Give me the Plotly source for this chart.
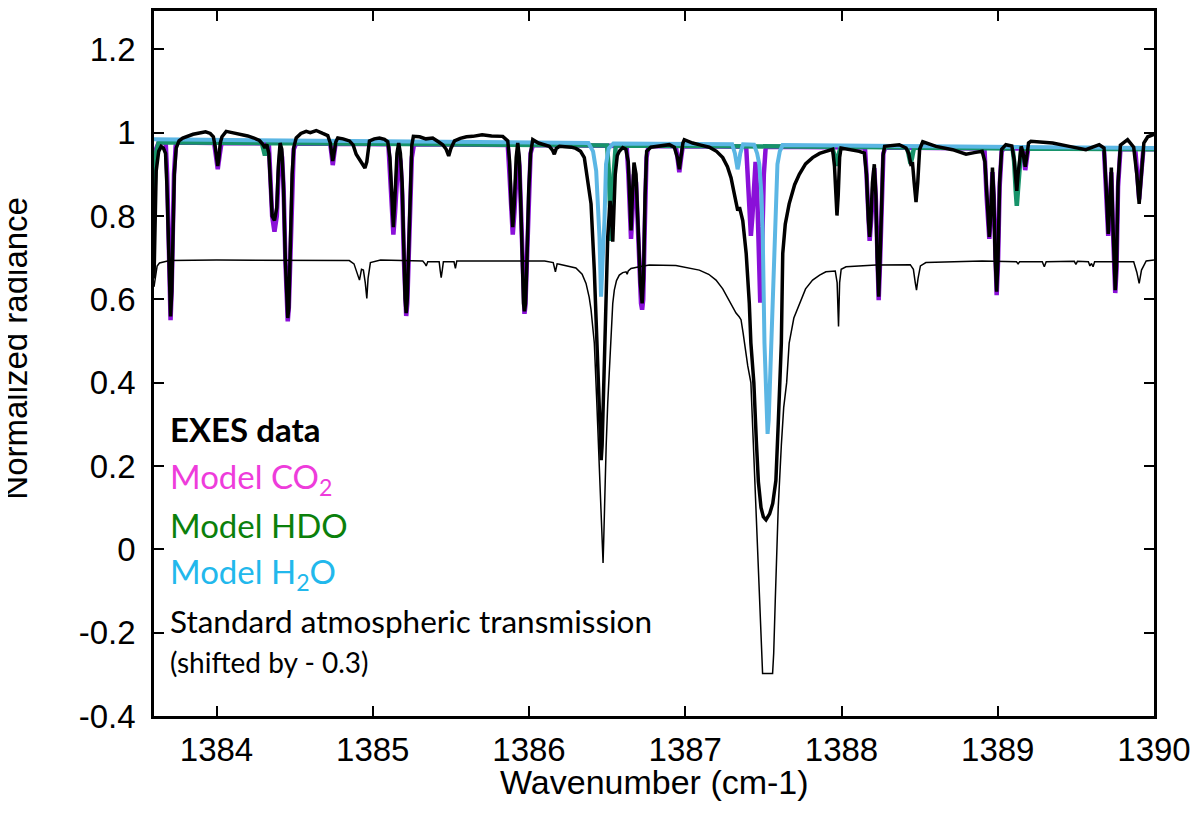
import plotly.graph_objects as go

# wavenumber (cm-1), normalized radiance
exes_points = [
    (1383.600, 0.650), (1383.614, 0.908), (1383.630, 0.955), (1383.646, 0.967),
    (1383.660, 0.963), (1383.674, 0.950), (1383.683, 0.870), (1383.690, 0.760),
    (1383.698, 0.620), (1383.706, 0.559), (1383.714, 0.620), (1383.722, 0.760),
    (1383.730, 0.900), (1383.742, 0.963), (1383.760, 0.980), (1383.784, 0.987),
    (1383.820, 0.992), (1383.850, 0.996), (1383.891, 0.999), (1383.930, 1.002),
    (1383.960, 0.998), (1383.980, 0.990), (1383.992, 0.965), (1384.000, 0.935),
    (1384.008, 0.920), (1384.016, 0.940), (1384.024, 0.975), (1384.035, 0.990),
    (1384.062, 1.003), (1384.100, 1.000), (1384.130, 0.998), (1384.168, 0.995),
    (1384.200, 0.992), (1384.240, 0.987), (1384.275, 0.981), (1384.300, 0.970),
    (1384.310, 0.963), (1384.322, 0.972), (1384.335, 0.950), (1384.345, 0.880),
    (1384.356, 0.800), (1384.371, 0.789), (1384.386, 0.820), (1384.396, 0.920),
    (1384.407, 0.975), (1384.418, 0.960), (1384.428, 0.880), (1384.440, 0.700),
    (1384.449, 0.580), (1384.456, 0.555), (1384.463, 0.580), (1384.472, 0.700),
    (1384.484, 0.900), (1384.495, 0.965), (1384.510, 0.987), (1384.540, 0.998),
    (1384.574, 1.003), (1384.600, 1.000), (1384.638, 1.005), (1384.680, 0.998),
    (1384.712, 0.993), (1384.728, 0.975), (1384.738, 0.945), (1384.744, 0.932),
    (1384.752, 0.950), (1384.764, 0.978), (1384.776, 0.987), (1384.810, 0.985),
    (1384.851, 0.980), (1384.875, 0.970), (1384.894, 0.948), (1384.915, 0.935),
    (1384.936, 0.924), (1384.950, 0.915), (1384.962, 0.930), (1384.979, 0.980),
    (1385.010, 0.985), (1385.043, 0.987), (1385.075, 0.984), (1385.096, 0.978),
    (1385.110, 0.940), (1385.120, 0.860), (1385.132, 0.773), (1385.144, 0.860),
    (1385.155, 0.950), (1385.166, 0.975), (1385.177, 0.950), (1385.188, 0.880),
    (1385.198, 0.720), (1385.207, 0.600), (1385.214, 0.567), (1385.221, 0.600),
    (1385.230, 0.720), (1385.240, 0.890), (1385.250, 0.970), (1385.260, 0.991),
    (1385.300, 0.990), (1385.340, 0.985), (1385.384, 0.987), (1385.420, 0.978),
    (1385.448, 0.971), (1385.470, 0.960), (1385.486, 0.944), (1385.500, 0.962),
    (1385.523, 0.980), (1385.560, 0.986), (1385.600, 0.990), (1385.640, 0.991),
    (1385.700, 0.995), (1385.760, 0.992), (1385.832, 0.991), (1385.864, 0.980),
    (1385.876, 0.930), (1385.886, 0.830), (1385.896, 0.773), (1385.906, 0.830),
    (1385.918, 0.940), (1385.928, 0.975), (1385.938, 0.940), (1385.948, 0.820),
    (1385.958, 0.660), (1385.965, 0.590), (1385.971, 0.571), (1385.978, 0.590),
    (1385.986, 0.680), (1385.998, 0.860), (1386.010, 0.950), (1386.024, 0.983),
    (1386.060, 0.975), (1386.100, 0.970), (1386.130, 0.967), (1386.150, 0.958),
    (1386.162, 0.948), (1386.175, 0.962), (1386.195, 0.967), (1386.230, 0.966),
    (1386.270, 0.965), (1386.300, 0.962), (1386.330, 0.955), (1386.354, 0.940),
    (1386.380, 0.880), (1386.397, 0.829), (1386.418, 0.670), (1386.433, 0.495),
    (1386.448, 0.330), (1386.456, 0.250), (1386.462, 0.214), (1386.468, 0.250),
    (1386.476, 0.350), (1386.483, 0.495), (1386.495, 0.650), (1386.504, 0.750),
    (1386.519, 0.836), (1386.528, 0.800), (1386.536, 0.738), (1386.544, 0.800),
    (1386.552, 0.900), (1386.565, 0.945), (1386.578, 0.955), (1386.600, 0.964),
    (1386.620, 0.960), (1386.635, 0.930), (1386.645, 0.840), (1386.653, 0.765),
    (1386.661, 0.840), (1386.672, 0.928), (1386.685, 0.900), (1386.700, 0.780),
    (1386.712, 0.640), (1386.724, 0.590), (1386.733, 0.650), (1386.743, 0.850),
    (1386.753, 0.955), (1386.780, 0.965), (1386.830, 0.968), (1386.898, 0.971),
    (1386.930, 0.965), (1386.950, 0.940), (1386.962, 0.912), (1386.972, 0.940),
    (1386.985, 0.975), (1386.994, 0.983), (1387.047, 0.975), (1387.100, 0.970),
    (1387.154, 0.965), (1387.200, 0.955), (1387.240, 0.940), (1387.270, 0.918),
    (1387.293, 0.892), (1387.310, 0.860), (1387.325, 0.829), (1387.336, 0.813),
    (1387.347, 0.821), (1387.368, 0.789), (1387.390, 0.710), (1387.410, 0.590),
    (1387.420, 0.495), (1387.439, 0.400), (1387.455, 0.260), (1387.468, 0.162),
    (1387.485, 0.100), (1387.500, 0.078), (1387.517, 0.071), (1387.540, 0.085),
    (1387.560, 0.110), (1387.580, 0.165), (1387.595, 0.300), (1387.608, 0.400),
    (1387.615, 0.495), (1387.624, 0.710), (1387.640, 0.780), (1387.665, 0.829),
    (1387.700, 0.875), (1387.730, 0.900), (1387.770, 0.925), (1387.815, 0.940),
    (1387.860, 0.950), (1387.900, 0.955), (1387.943, 0.960), (1387.955, 0.920),
    (1387.964, 0.840), (1387.971, 0.801), (1387.979, 0.850), (1387.988, 0.940),
    (1387.997, 0.963), (1388.050, 0.960), (1388.114, 0.955), (1388.146, 0.951),
    (1388.160, 0.900), (1388.172, 0.790), (1388.180, 0.750), (1388.188, 0.790),
    (1388.198, 0.880), (1388.210, 0.924), (1388.220, 0.850), (1388.228, 0.700),
    (1388.238, 0.606), (1388.247, 0.700), (1388.256, 0.860), (1388.266, 0.945),
    (1388.276, 0.967), (1388.370, 0.971), (1388.413, 0.963), (1388.430, 0.950),
    (1388.444, 0.924), (1388.455, 0.925), (1388.465, 0.880), (1388.477, 0.833),
    (1388.488, 0.880), (1388.500, 0.960), (1388.520, 0.978), (1388.605, 0.967),
    (1388.711, 0.959), (1388.797, 0.948), (1388.850, 0.952), (1388.900, 0.955),
    (1388.918, 0.930), (1388.930, 0.840), (1388.940, 0.760), (1388.946, 0.750),
    (1388.955, 0.800), (1388.966, 0.916), (1388.975, 0.850), (1388.983, 0.700),
    (1388.993, 0.618), (1389.002, 0.700), (1389.012, 0.880), (1389.025, 0.960),
    (1389.052, 0.971), (1389.090, 0.968), (1389.105, 0.935), (1389.115, 0.880),
    (1389.122, 0.860), (1389.130, 0.900), (1389.150, 0.967), (1389.160, 0.955),
    (1389.170, 0.925), (1389.176, 0.918), (1389.185, 0.940), (1389.197, 0.975),
    (1389.212, 0.979), (1389.351, 0.975), (1389.458, 0.967), (1389.564, 0.959),
    (1389.649, 0.971), (1389.680, 0.963), (1389.695, 0.860), (1389.707, 0.757),
    (1389.718, 0.840), (1389.727, 0.916), (1389.737, 0.780), (1389.745, 0.660),
    (1389.752, 0.622), (1389.760, 0.680), (1389.770, 0.880), (1389.785, 0.970),
    (1389.831, 0.983), (1389.870, 0.965), (1389.890, 0.900), (1389.905, 0.829),
    (1389.918, 0.900), (1389.935, 0.975), (1389.960, 0.990), (1389.985, 0.995),
    (1390.000, 0.996),
]

co2_points = [
    (1383.600, 0.900), (1383.610, 0.958), (1383.630, 0.976), (1383.675, 0.976),
    (1383.684, 0.900), (1383.692, 0.760), (1383.699, 0.620), (1383.706, 0.550),
    (1383.713, 0.620), (1383.720, 0.760), (1383.728, 0.900), (1383.740, 0.976),
    (1383.985, 0.975), (1383.996, 0.945), (1384.008, 0.912), (1384.020, 0.945),
    (1384.032, 0.975), (1384.335, 0.974), (1384.345, 0.900), (1384.356, 0.800),
    (1384.371, 0.762), (1384.386, 0.800), (1384.397, 0.900), (1384.410, 0.960),
    (1384.420, 0.940), (1384.430, 0.860), (1384.441, 0.690), (1384.449, 0.580),
    (1384.456, 0.547), (1384.463, 0.580), (1384.471, 0.690), (1384.482, 0.860),
    (1384.494, 0.960), (1384.510, 0.974), (1384.728, 0.973), (1384.737, 0.945),
    (1384.744, 0.922), (1384.752, 0.945), (1384.762, 0.973), (1385.100, 0.972),
    (1385.111, 0.900), (1385.121, 0.810), (1385.132, 0.755), (1385.143, 0.810),
    (1385.153, 0.900), (1385.166, 0.955), (1385.178, 0.930), (1385.189, 0.850),
    (1385.199, 0.700), (1385.207, 0.590), (1385.214, 0.560), (1385.221, 0.590),
    (1385.229, 0.700), (1385.239, 0.850), (1385.250, 0.940), (1385.264, 0.972),
    (1385.864, 0.970), (1385.875, 0.900), (1385.885, 0.810), (1385.896, 0.755),
    (1385.907, 0.810), (1385.917, 0.900), (1385.928, 0.955), (1385.939, 0.920),
    (1385.950, 0.800), (1385.959, 0.650), (1385.965, 0.585), (1385.971, 0.565),
    (1385.977, 0.585), (1385.985, 0.680), (1385.996, 0.850), (1386.010, 0.950),
    (1386.025, 0.970), (1386.625, 0.968), (1386.636, 0.900), (1386.645, 0.800),
    (1386.653, 0.745), (1386.661, 0.800), (1386.671, 0.900), (1386.685, 0.880),
    (1386.698, 0.760), (1386.710, 0.630), (1386.717, 0.590), (1386.724, 0.575),
    (1386.731, 0.600), (1386.740, 0.760), (1386.752, 0.940), (1386.765, 0.968),
    (1386.940, 0.967), (1386.952, 0.935), (1386.962, 0.905), (1386.972, 0.935),
    (1386.984, 0.967), (1387.390, 0.966), (1387.400, 0.900), (1387.410, 0.800),
    (1387.420, 0.752), (1387.430, 0.800), (1387.440, 0.870), (1387.450, 0.930),
    (1387.460, 0.860), (1387.468, 0.720), (1387.474, 0.630), (1387.480, 0.592),
    (1387.486, 0.630), (1387.493, 0.740), (1387.503, 0.900), (1387.515, 0.966),
    (1388.150, 0.964), (1388.160, 0.900), (1388.170, 0.790), (1388.180, 0.740),
    (1388.190, 0.790), (1388.200, 0.880), (1388.210, 0.915), (1388.220, 0.840),
    (1388.228, 0.690), (1388.238, 0.598), (1388.247, 0.690), (1388.256, 0.850),
    (1388.268, 0.950), (1388.280, 0.964), (1388.915, 0.962), (1388.928, 0.850),
    (1388.938, 0.770), (1388.946, 0.745), (1388.955, 0.800), (1388.966, 0.905),
    (1388.975, 0.840), (1388.983, 0.690), (1388.993, 0.610), (1389.002, 0.690),
    (1389.012, 0.870), (1389.025, 0.955), (1389.040, 0.962), (1389.160, 0.962),
    (1389.168, 0.935), (1389.176, 0.910), (1389.185, 0.935), (1389.195, 0.962),
    (1389.680, 0.961), (1389.692, 0.860), (1389.700, 0.780), (1389.707, 0.752),
    (1389.716, 0.820), (1389.727, 0.905), (1389.737, 0.770), (1389.745, 0.650),
    (1389.752, 0.615), (1389.760, 0.670), (1389.770, 0.870), (1389.785, 0.960),
    (1389.880, 0.960), (1389.893, 0.900), (1389.905, 0.840), (1389.918, 0.900),
    (1389.932, 0.960), (1390.000, 0.960),
]

hdo_points = [
    (1383.600, 0.820), (1383.612, 0.950), (1383.630, 0.977), (1384.290, 0.975),
    (1384.300, 0.960), (1384.310, 0.945), (1384.320, 0.960), (1384.330, 0.975),
    (1386.500, 0.969), (1386.512, 0.900), (1386.520, 0.800), (1386.527, 0.740),
    (1386.534, 0.800), (1386.542, 0.900), (1386.555, 0.969), (1387.940, 0.966),
    (1387.955, 0.945), (1387.968, 0.920), (1387.980, 0.945), (1387.995, 0.966),
    (1388.420, 0.964), (1388.432, 0.940), (1388.442, 0.925), (1388.452, 0.940),
    (1388.464, 0.964), (1389.095, 0.962), (1389.105, 0.930), (1389.115, 0.860),
    (1389.122, 0.824), (1389.129, 0.860), (1389.139, 0.930), (1389.150, 0.962),
    (1390.000, 0.960),
]

h2o_points = [
    (1383.600, 0.984), (1386.380, 0.975), (1386.410, 0.955), (1386.430, 0.908),
    (1386.451, 0.750), (1386.461, 0.606), (1386.472, 0.700), (1386.483, 0.789),
    (1386.493, 0.924), (1386.510, 0.962), (1386.540, 0.974), (1387.300, 0.972),
    (1387.318, 0.950), (1387.328, 0.925), (1387.335, 0.912), (1387.342, 0.925),
    (1387.352, 0.950), (1387.370, 0.972), (1387.440, 0.971), (1387.460, 0.950),
    (1387.474, 0.924), (1387.488, 0.850), (1387.496, 0.750), (1387.507, 0.495),
    (1387.513, 0.400), (1387.520, 0.310), (1387.527, 0.277), (1387.534, 0.310),
    (1387.542, 0.400), (1387.552, 0.495), (1387.564, 0.700), (1387.572, 0.750),
    (1387.581, 0.870), (1387.590, 0.924), (1387.605, 0.955), (1387.623, 0.970),
    (1390.000, 0.963),
]

# standard atmospheric transmission, already shifted by -0.3
atm_points = [
    (1383.600, 0.630), (1383.610, 0.660), (1383.620, 0.680), (1383.635, 0.687),
    (1383.700, 0.693), (1384.000, 0.694), (1384.300, 0.694), (1384.850, 0.693),
    (1384.880, 0.685), (1384.900, 0.665), (1384.915, 0.646), (1384.928, 0.672),
    (1384.940, 0.670), (1384.952, 0.640), (1384.962, 0.602), (1384.970, 0.650),
    (1384.985, 0.688), (1385.050, 0.694), (1385.320, 0.692), (1385.335, 0.685),
    (1385.342, 0.680), (1385.352, 0.690), (1385.425, 0.690), (1385.432, 0.668),
    (1385.438, 0.652), (1385.445, 0.670), (1385.452, 0.690), (1385.520, 0.690),
    (1385.529, 0.674), (1385.538, 0.692), (1386.100, 0.692), (1386.155, 0.688),
    (1386.169, 0.666), (1386.180, 0.685), (1386.195, 0.684), (1386.300, 0.675),
    (1386.340, 0.660), (1386.365, 0.638), (1386.385, 0.605), (1386.397, 0.575),
    (1386.408, 0.540), (1386.418, 0.495), (1386.434, 0.352), (1386.450, 0.200),
    (1386.461, 0.114), (1386.469, 0.020), (1386.474, -0.033), (1386.478, 0.020),
    (1386.483, 0.114), (1386.494, 0.250), (1386.504, 0.352), (1386.520, 0.480),
    (1386.536, 0.590), (1386.546, 0.622), (1386.560, 0.645), (1386.578, 0.658),
    (1386.600, 0.664), (1386.621, 0.666), (1386.628, 0.660), (1386.635, 0.668),
    (1386.653, 0.674), (1386.706, 0.678), (1386.770, 0.682), (1386.940, 0.681),
    (1387.000, 0.677), (1387.090, 0.670), (1387.150, 0.660), (1387.197, 0.646),
    (1387.240, 0.625), (1387.282, 0.598), (1387.310, 0.578), (1387.325, 0.567),
    (1387.345, 0.558), (1387.357, 0.551), (1387.370, 0.520), (1387.378, 0.495),
    (1387.400, 0.440), (1387.420, 0.400), (1387.440, 0.216), (1387.460, 0.032),
    (1387.477, -0.124), (1387.488, -0.250), (1387.495, -0.298), (1387.559, -0.298),
    (1387.566, -0.250), (1387.576, -0.124), (1387.595, 0.100), (1387.615, 0.250),
    (1387.630, 0.340), (1387.649, 0.400), (1387.665, 0.495), (1387.695, 0.555),
    (1387.730, 0.590), (1387.770, 0.625), (1387.815, 0.646), (1387.860, 0.658),
    (1387.900, 0.666), (1387.960, 0.668), (1387.972, 0.640), (1387.981, 0.535),
    (1387.988, 0.640), (1387.998, 0.672), (1388.029, 0.678), (1388.220, 0.682),
    (1388.440, 0.683), (1388.460, 0.672), (1388.472, 0.640), (1388.480, 0.622),
    (1388.490, 0.650), (1388.505, 0.680), (1388.540, 0.688), (1388.900, 0.692),
    (1389.120, 0.690), (1389.130, 0.685), (1389.140, 0.690), (1389.285, 0.690),
    (1389.298, 0.678), (1389.310, 0.690), (1389.490, 0.691), (1389.500, 0.684),
    (1389.510, 0.691), (1389.580, 0.690), (1389.590, 0.680), (1389.600, 0.686),
    (1389.610, 0.678), (1389.620, 0.690), (1389.870, 0.690), (1389.890, 0.665),
    (1389.905, 0.638), (1389.920, 0.670), (1389.950, 0.692), (1390.000, 0.694),
]

x_ticks = [1384, 1385, 1386, 1387, 1388, 1389, 1390]
y_ticks = [-0.4, -0.2, 0, 0.2, 0.4, 0.6, 0.8, 1, 1.2]
y_tick_labels = ['-0.4', '-0.2', '0', '0.2', '0.4', '0.6', '0.8', '1', '1.2']

# text, colour, font size, y position (data units)
legend_lines = [
    ('<b>EXES data</b>', '#000000', 33, 0.288),
    ('Model CO<sub>2</sub>', '#EE3CDB', 33, 0.171),
    ('Model HDO', '#0B800B', 33, 0.058),
    ('Model H<sub>2</sub>O', '#22B8EC', 33, -0.058),
    ('Standard atmospheric transmission', '#000000', 31.5, -0.172),
    ('(shifted by - 0.3)', '#000000', 28, -0.271),
]


def unzip(points):
    return [p[0] for p in points], [p[1] for p in points]


fig = go.Figure()

# model curves first, data on top
series = [
    (co2_points, '#8A10D8', 4.5),
    (hdo_points, '#17936A', 4.5),
    (h2o_points, '#5BB6E4', 4),
    (atm_points, '#000000', 1.5),
    (exes_points, '#000000', 3.5),
]
for pts, color, width in series:
    xs, ys = unzip(pts)
    fig.add_trace(go.Scatter(
        x=xs, y=ys, mode='lines',
        line=dict(color=color, width=width),
        showlegend=False, hoverinfo='skip'
    ))

for text, color, size, ypos in legend_lines:
    fig.add_annotation(
        x=1383.69, y=ypos, xref='x', yref='y',
        text=text, showarrow=False,
        xanchor='left', yanchor='middle',
        font=dict(family='Lato', size=size, color=color)
    )

# axis titles
fig.add_annotation(
    x=0.5, y=-0.093, xref='paper', yref='paper',
    text='Wavenumber (cm-1)', showarrow=False,
    xanchor='center', yanchor='middle',
    font=dict(family='Liberation Sans', size=34, color='black')
)
fig.add_annotation(
    x=-0.138, y=0.521, xref='paper', yref='paper',
    text='Normalized radiance', showarrow=False, textangle=-90,
    xanchor='center', yanchor='middle',
    font=dict(family='Liberation Sans', size=33, color='black')
)

axis_style = dict(
    showline=True, linecolor='black', linewidth=2.5, mirror='allticks',
    ticks='inside', ticklen=10, tickwidth=1.5, tickcolor='black',
    showgrid=False, zeroline=False,
    tickfont=dict(family='Liberation Sans', size=33, color='black')
)

# the page puts the figure 8px in from the top-left corner
fig.update_layout(
    width=1200, height=825,
    margin=dict(l=146, r=54, t=0, b=117),
    plot_bgcolor='white', paper_bgcolor='white',
    xaxis=dict(range=[1383.6, 1390], tickvals=x_ticks, ticklabelstandoff=3, **axis_style),
    yaxis=dict(range=[-0.4, 1.2918], tickvals=y_ticks, ticktext=y_tick_labels,
               ticklabelstandoff=9, **axis_style),
)

fig.write_html('out.html')
